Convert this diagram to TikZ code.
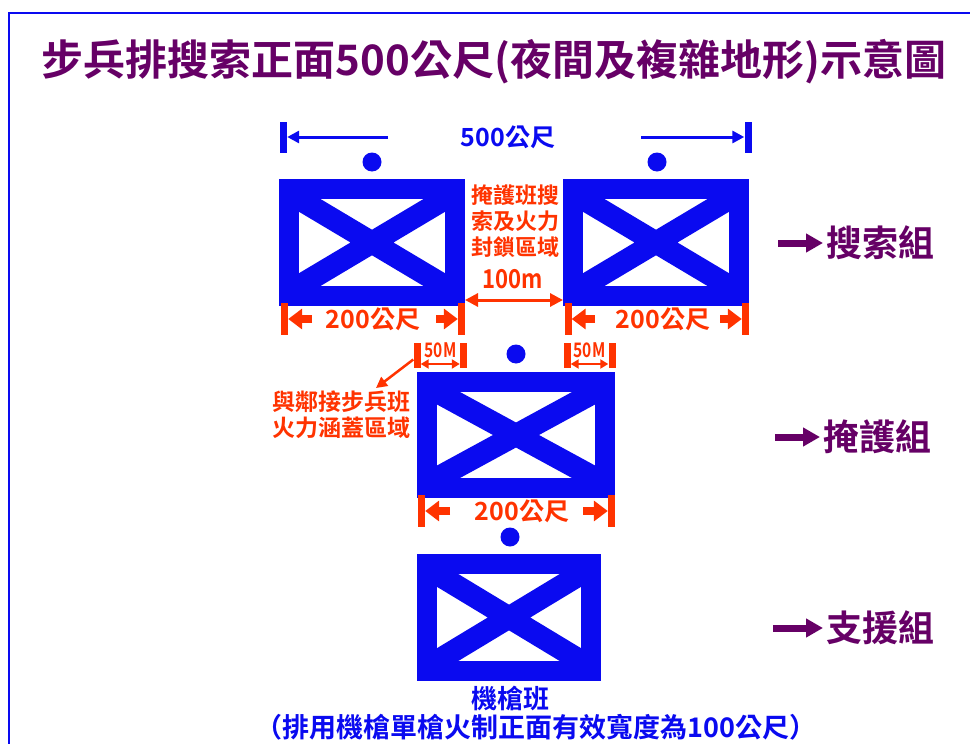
\documentclass[tikz,border=0pt]{standalone}
\usepackage{fontspec}
\setmainfont{Noto Sans CJK TC Bold}
\usetikzlibrary{arrows.meta}
\definecolor{ublue}{RGB}{10,10,240}
\definecolor{ured}{RGB}{255,51,0}
\definecolor{upurple}{RGB}{102,0,102}
\tikzset{
  unitbox/.style={rectangle, fill=ublue, inner sep=0pt, outer sep=0pt,
    path picture={
      \coordinate (ipnw) at ([xshift=20pt,yshift=-20pt]path picture bounding box.north west);
      \coordinate (ipse) at ([xshift=-20pt,yshift=20pt]path picture bounding box.south east);
      \fill[white] (ipnw) rectangle (ipse);
      \begin{scope}
        \clip (ipnw) rectangle (ipse);
        \draw[ublue, line width=22pt] (ipnw) -- (ipse) (ipnw -| ipse) -- (ipse -| ipnw);
      \end{scope}
    }},
  dot/.style={circle, fill=ublue, minimum size=19pt, inner sep=0pt},
  bluebar/.style={rectangle, fill=ublue, minimum width=7pt, minimum height=31pt, inner sep=0pt},
  redtick/.style={rectangle, fill=ured, minimum width=7pt, minimum height=32pt, inner sep=0pt},
  smalltick/.style={rectangle, fill=ured, minimum width=7pt, minimum height=25pt, inner sep=0pt},
  bluearrow/.style={draw=ublue, line width=3pt, -{Triangle[length=12pt,width=12pt]}},
  dimarrow/.style={draw=ured, line width=8pt, -{Triangle[length=14pt,width=20pt]}},
  gaparrow/.style={draw=ured, line width=3pt, {Triangle[length=13pt,width=13pt]}-{Triangle[length=13pt,width=13pt]}},
  fiftyarrow/.style={draw=ured, line width=2pt, {Triangle[length=8pt,width=9pt]}-{Triangle[length=8pt,width=9pt]}},
  pointer/.style={draw=ured, line width=2.5pt, -{Triangle[length=11pt,width=11pt]}},
  grouparrow/.style={draw=upurple, line width=7pt, -{Triangle[length=17pt,width=18pt]}},
  titletext/.style={text=upurple, inner sep=0pt, font=\fontsize{42pt}{48pt}\selectfont},
  grouptext/.style={text=upurple, inner sep=0pt, anchor=west, font=\fontsize{36pt}{40pt}\selectfont},
  bluetext/.style={text=ublue, inner sep=0pt, font=\fontsize{25pt}{28pt}\selectfont},
  redtext/.style={text=ured, inner sep=0pt, font=\fontsize{25pt}{28pt}\selectfont},
  redlabel/.style={text=ured, inner sep=0pt, align=center, font=\fontsize{22pt}{26pt}\selectfont},
  fiftytext/.style={text=ured, inner sep=0pt, font=\fontsize{20pt}{22pt}\selectfont},
}
\begin{document}
\begin{tikzpicture}[x=1pt,y=-1pt]
\useasboundingbox (0,0) rectangle (970,744);
\fill[white] (0,0) rectangle (970,744);
% frame
\draw[ublue, line width=2pt] (8.5,744) -- (8.5,13) -- (970,13);
% title
\node[titletext] (title) at (494,62) {步兵排搜索正面500公尺(夜間及複雜地形)示意圖};
% unit boxes
\node[unitbox, minimum width=186pt, minimum height=127pt] (s1) at (372,242.5) {};
\node[unitbox, minimum width=186pt, minimum height=127pt] (s2) at (656,242.5) {};
\node[unitbox, minimum width=198pt, minimum height=126pt] (c1) at (516,435) {};
\node[unitbox, minimum width=184pt, minimum height=127pt] (m1) at (509,617.5) {};
% leader dots
\node[dot] (d1) at (372,162) {};
\node[dot] (d2) at (657,162) {};
\node[dot] (d3) at (516,354) {};
\node[dot] (d4) at (510,537) {};
% 500 dimension
\node[bluebar] (b500l) at (283.5,137.5) {};
\node[bluebar] (b500r) at (748,137.5) {};
\coordinate (a500l) at (388,137);
\coordinate (a500r) at (641,137);
\draw[bluearrow] (a500l) -- (b500l.east |- a500l);
\draw[bluearrow] (a500r) -- (b500r.west |- a500r);
\node[bluetext] (t500) at (508,137) {500公尺};
% centre gap label
\node[redlabel] (gaplabel) at (515,221) {掩護班搜\\索及火力\\封鎖區域};
\node[redtext, font=\fontsize{26pt}{28pt}\selectfont] (t100) at (513,279) {\scalebox{0.85}[1]{100m}};
\draw[gaparrow] ([yshift=6pt]s1.south east) -- ([yshift=6pt]s2.south west);
% 200 dimension, left
\node[redtick] (k1a) at (284.5,319) {};
\node[redtick] (k1b) at (461.5,319) {};
\coordinate (p1a) at (312,319);
\coordinate (p1b) at (436,319);
\draw[dimarrow] (p1a) -- (k1a.east);
\draw[dimarrow] (p1b) -- (k1b.west);
\node[redtext] (t200a) at (373,319) {200公尺};
% 200 dimension, right
\node[redtick] (k2a) at (568,319) {};
\node[redtick] (k2b) at (745.5,319) {};
\coordinate (p2a) at (595,319);
\coordinate (p2b) at (720,319);
\draw[dimarrow] (p2a) -- (k2a.east);
\draw[dimarrow] (p2b) -- (k2b.west);
\node[redtext] (t200b) at (663,319) {200公尺};
% 200 dimension, middle
\node[redtick] (k3a) at (421.5,511) {};
\node[redtick] (k3b) at (611.5,511) {};
\coordinate (p3a) at (450,511);
\coordinate (p3b) at (583,511);
\draw[dimarrow] (p3a) -- (k3a.east);
\draw[dimarrow] (p3b) -- (k3b.west);
\node[redtext] (t200c) at (522,511) {200公尺};
% 50M dimensions
\node[smalltick] (f1a) at (417,355.5) {};
\node[smalltick] (f1b) at (463.5,355.5) {};
\draw[fiftyarrow] ([yshift=-8.5pt]f1a.east) -- ([yshift=-8.5pt]f1b.west);
\node[fiftytext] (t50a) at (440.5,350) {\scalebox{0.78}[1]{50M}};
\node[smalltick] (f2a) at (567,355.5) {};
\node[smalltick] (f2b) at (612,355.5) {};
\draw[fiftyarrow] ([yshift=-8.5pt]f2a.east) -- ([yshift=-8.5pt]f2b.west);
\node[fiftytext] (t50b) at (589.5,350) {\scalebox{0.78}[1]{50M}};
% neighbour label
\node[redlabel, font=\fontsize{23pt}{26pt}\selectfont] (nlabel) at (341,415) {與鄰接步兵班\\火力涵蓋區域};
\coordinate (tipA) at (376,388);
\draw[pointer] ([yshift=-4pt]f1a.west) -- (tipA);
% group labels
\node[grouptext] (g1) at (826,243) {搜索組};
\node[grouptext] (g2) at (823,437) {掩護組};
\node[grouptext] (g3) at (826,628) {支援組};
\coordinate (ga1) at (778,243);
\coordinate (ga2) at (775,437);
\coordinate (ga3) at (773,628);
\draw[grouparrow] (ga1) -- ([xshift=-3pt]g1.west);
\draw[grouparrow] (ga2) -- ([xshift=-3pt]g2.west);
\draw[grouparrow] (ga3) -- ([xshift=-3pt]g3.west);
% machine gun squad
\node[bluetext, font=\fontsize{26pt}{30pt}\selectfont] (mgname) at (510,698) {機槍班};
\node[bluetext, font=\fontsize{27pt}{30pt}\selectfont] (mgnote) at (536,727) {（排用機槍單槍火制正面有效寬度為100公尺）};
\end{tikzpicture}
\end{document}
